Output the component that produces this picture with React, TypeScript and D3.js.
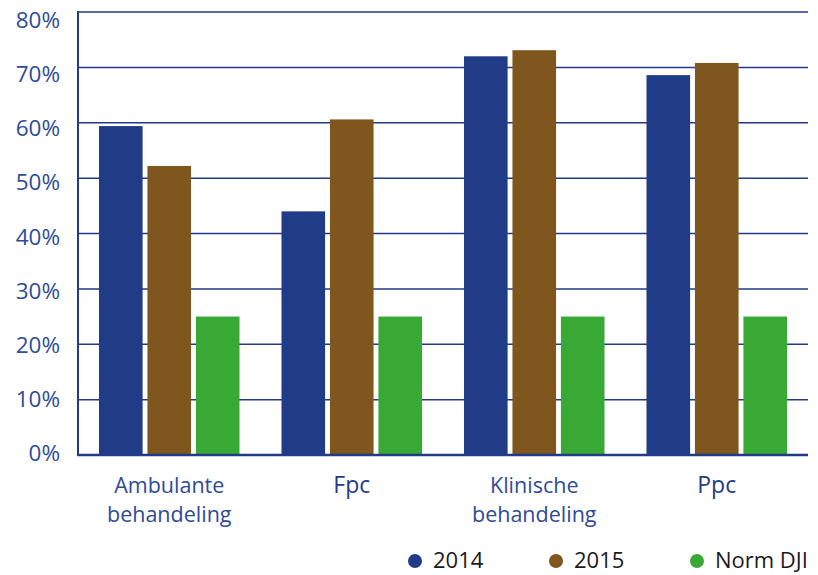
import { useEffect, useRef } from 'react';
import * as d3 from 'd3';

const categories = ['Ambulante\nbehandeling', 'Fpc', 'Klinische\nbehandeling', 'Ppc'];
const boldCategories = ['Fpc', 'Ppc'];
const seriesNames = ['2014', '2015', 'Norm DJI'];
const values2014 = [59.4, 44.0, 72.0, 68.6];
const values2015 = [52.2, 60.6, 73.1, 70.8];
const valuesNorm = [25, 25, 25, 25];
const yTicks = [0, 10, 20, 30, 40, 50, 60, 70, 80];
const colors = ['#213c87', '#7e561e', '#38a935'];

const App = (): JSX.Element => {
  const svgRef = useRef<SVGSVGElement>(null);

  useEffect(() => {
    document.body.style.margin = '0';
    if (svgRef.current) {
      svgRef.current.innerHTML = '';
    }
    const width = 818;
    const height = 575;
    const marginLeft = 78;
    const marginRight = 10;
    const marginTop = 12;
    const plotBottom = 455;
    const font = '"Open Sans", sans-serif';
    const textBlue = '#2f4b96';

    const series = [values2014, values2015, valuesNorm];

    const x0 = d3
      .scaleBand<string>()
      .domain(categories)
      .range([marginLeft, width - marginRight])
      .paddingInner(0.23)
      .paddingOuter(0.115);

    const x1 = d3
      .scaleBand<string>()
      .domain(seriesNames)
      .range([0, x0.bandwidth()])
      .paddingInner(0.1);

    const y = d3.scaleLinear([0, 80], [plotBottom, marginTop]);
    // tick labels sit on a slightly compressed scale in the original
    const yLabel = d3.scaleLinear([0, 80], [453, 20]);

    const svg = d3
      .select(svgRef.current)
      .attr('width', width)
      .attr('height', height)
      .attr('viewBox', [0, 0, width, height]);

    // grid lines
    svg
      .append('g')
      .selectAll('line')
      .data(yTicks.filter((t) => t > 0))
      .enter()
      .append('line')
      .attr('x1', marginLeft)
      .attr('x2', width - marginRight)
      .attr('y1', (d) => y(d))
      .attr('y2', (d) => y(d))
      .attr('stroke', '#23398a')
      .attr('stroke-width', 1.5);

    // tick labels
    svg
      .append('g')
      .selectAll('text')
      .data(yTicks)
      .enter()
      .append('text')
      .attr('x', 60)
      .attr('y', (d) => yLabel(d))
      .attr('dy', '0.36em')
      .attr('text-anchor', 'end')
      .attr('font-family', font)
      .attr('font-size', 22.5)
      .attr('fill', textBlue)
      .text((d) => `${d}%`);

    // bars
    const groups = svg
      .append('g')
      .selectAll('g')
      .data(categories)
      .enter()
      .append('g')
      .attr('transform', (d) => `translate(${x0(d)},0)`);

    groups
      .selectAll('rect')
      .data((_, i) => seriesNames.map((name, s) => ({ name, value: series[s][i], s })))
      .enter()
      .append('rect')
      .attr('x', (d) => x1(d.name) as number)
      .attr('y', (d) => y(d.value))
      .attr('width', x1.bandwidth())
      .attr('height', (d) => plotBottom - y(d.value))
      .attr('fill', (d) => colors[d.s]);

    // axes lines
    svg
      .append('line')
      .attr('x1', marginLeft)
      .attr('x2', marginLeft)
      .attr('y1', marginTop - 1)
      .attr('y2', plotBottom + 1)
      .attr('stroke', '#23398a')
      .attr('stroke-width', 2);
    svg
      .append('line')
      .attr('x1', marginLeft - 1)
      .attr('x2', width - marginRight)
      .attr('y1', plotBottom)
      .attr('y2', plotBottom)
      .attr('stroke', '#23398a')
      .attr('stroke-width', 2.5);

    // category labels
    svg
      .append('g')
      .selectAll('text')
      .data(categories)
      .enter()
      .append('text')
      .attr('x', (d) => (x0(d) as number) + x0.bandwidth() / 2)
      .attr('y', 493)
      .attr('text-anchor', 'middle')
      .attr('font-family', font)
      .attr('font-size', (d) => (boldCategories.includes(d) ? 23 : 21.5))
      .attr('font-weight', (d) => (boldCategories.includes(d) ? 500 : 400))
      .attr('fill', (d) => (boldCategories.includes(d) ? '#253c86' : textBlue))
      .each(function (d) {
        const lines = d.split('\n');
        d3.select(this)
          .selectAll('tspan')
          .data(lines)
          .enter()
          .append('tspan')
          .attr('x', (x0(d) as number) + x0.bandwidth() / 2)
          .attr('dy', (_, i) => (i === 0 ? 0 : 29))
          .text((l) => l);
      });

    // legend
    const legendX = [415, 556, 697];
    const legend = svg
      .append('g')
      .selectAll('g')
      .data(seriesNames)
      .enter()
      .append('g')
      .attr('transform', (_, i) => `translate(${legendX[i]},561)`);
    legend
      .append('circle')
      .attr('r', 7)
      .attr('fill', (_, i) => colors[i]);
    legend
      .append('text')
      .attr('x', 18)
      .attr('y', 7)
      .attr('font-family', font)
      .attr('font-size', 22)
      .attr('fill', '#1a1a1a')
      .text((d) => d);
  }, []);

  return (
    <div>
      <svg ref={svgRef} style={{ display: 'block' }} />
    </div>
  );
};

export default App;
